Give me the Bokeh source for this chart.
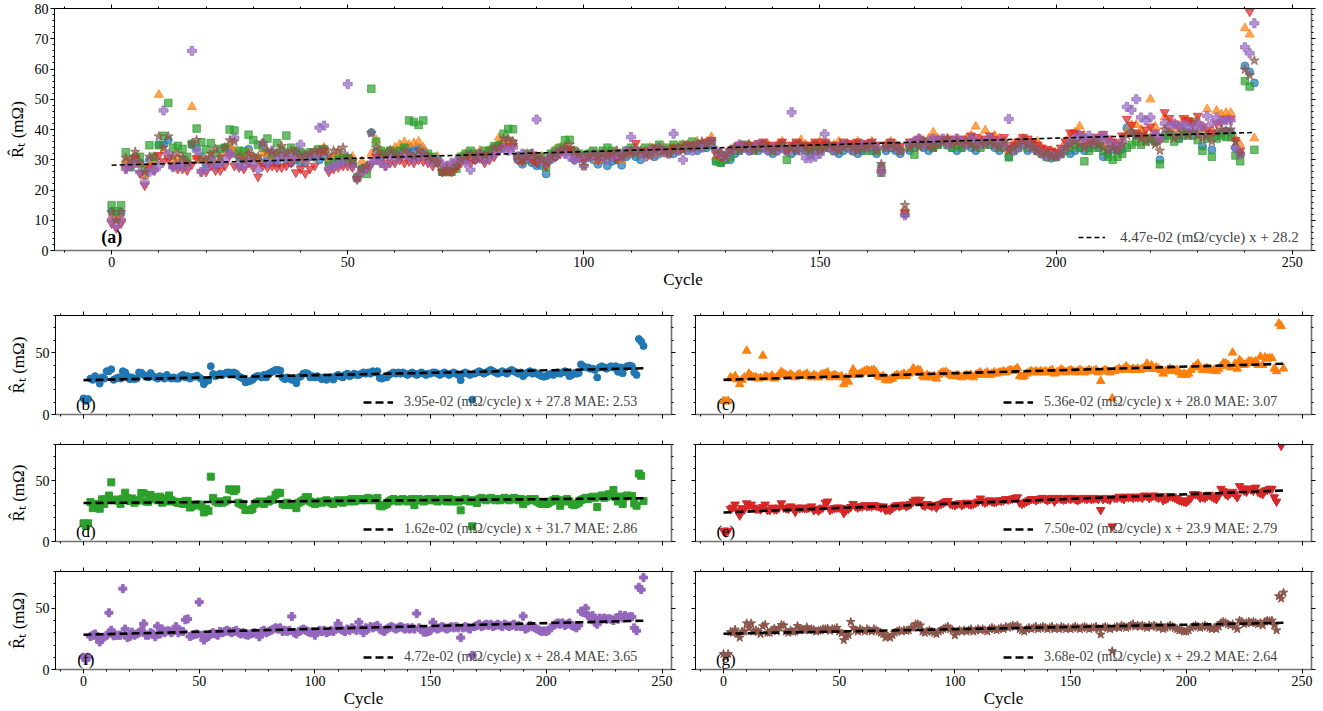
from bokeh.plotting import figure
from bokeh.layouts import column, row
from bokeh.models import (LinearAxis, SingleIntervalTicker, Range1d, Legend,
                          LegendItem, Label)
from bokeh.embed import file_html
from bokeh.resources import INLINE

cycles = list(range(243))

blue = [13, 11, 12.5, 29, 28, 31, 29, 25, 30, 29,
        35, 35, 36.5, 28, 29, 30, 29, 35, 34, 31,
        28.5, 30, 28.6, 29, 34, 33.7, 32, 31, 30, 33.5,
        31, 30, 29, 31, 30, 29, 32, 30, 29, 30,
        29, 29, 31, 32, 30, 31, 29, 30.5, 30.5, 31.5,
        30, 28.6, 24.5, 27, 27.5, 39, 32.7, 31, 32, 33,
        32, 33, 34, 34, 33, 34, 33, 31, 30, 29,
        26, 26.5, 27, 28, 30, 31, 31, 30, 32, 30,
        33, 34, 35, 36, 36, 35.5, 30, 28.5, 30, 29,
        28, 28.1, 25.3, 30, 31, 33, 33.5, 33, 30, 31,
        30, 31, 30, 28.5, 30, 28, 29.5, 30, 28.2, 31,
        32, 31, 30, 32, 33, 31, 32, 33, 32, 32,
        33, 34, 33, 34, 33, 35, 34, 35, 29.5, 29,
        30, 30, 32, 33, 34, 33, 34, 33, 34, 33,
        32, 33, 34, 33, 32, 33, 34, 33, 32, 33,
        33, 34, 34, 33, 32, 33, 34, 33, 32, 33,
        34, 33, 32, 27.7, 33, 34, 33, 32, 12, 33,
        34, 35, 34, 33, 34, 35, 36, 35, 34, 33,
        34, 35, 34, 33, 35, 36, 35, 34, 33, 34,
        31, 33, 34, 35, 33, 34, 33, 32, 31, 30.5,
        31, 32, 33, 32, 33, 34, 33, 34, 35, 34,
        31, 32, 33.5, 33, 33.5, 40.5, 39, 38, 38, 37,
        37, 36, 30, 38, 39, 38, 37, 38, 39, 38,
        39, 34.5, 38, 33.3, 38, 39, 39.5, 39, 34, 32,
        61, 59, 55.4]

orange = [11, 10.5, 11, 30, 29, 31, 28.3, 24.5, 28, 30,
          51.5, 33, 31, 30, 30, 29, 29.5, 47.5, 31, 30,
          30, 31.5, 29, 30, 32, 34.5, 33, 32, 31, 32.5,
          31, 30, 32, 32.5, 31, 32, 33, 31, 30, 32,
          31, 30, 32, 32.5, 33, 34, 30, 31, 32, 31,
          30, 31, 24.5, 29.5, 26.5, 32, 36.5, 33, 32, 33,
          34, 35, 35.8, 35, 35.5, 36, 34, 31, 30, 31,
          28, 27.5, 28.5, 29, 31, 32, 31, 32, 33, 31,
          33, 34, 37.3, 35, 36, 35.5, 31, 30, 32, 31,
          30, 31, 29, 32, 33.5, 34, 34.5, 33, 32, 31,
          31, 32, 31, 30, 31, 32, 31, 32, 30, 32,
          33, 34, 32, 33, 34, 32, 33, 34, 33, 34,
          34, 35, 34, 35, 36, 35, 36, 37.5, 31, 30.5,
          31, 33, 34, 35, 34, 35, 34, 35, 34, 35,
          34, 35, 36, 33, 34, 35, 36.5, 35, 34, 35,
          36, 35, 34, 35, 36, 35, 34, 35, 36, 35,
          35, 36, 34, 27, 35, 36, 35, 34, 13, 35,
          36, 37, 36, 37, 39, 37, 36, 37, 36, 37,
          36, 37, 38, 41, 37, 39.7, 37, 38, 37, 36,
          33, 35, 36, 37, 36, 35, 36, 34, 32, 33,
          32, 33, 36, 38, 39, 41, 38, 36, 37, 37.5,
          36, 35.5, 36, 35, 37, 39, 41.5, 41.5, 40, 38,
          50, 41, 37, 44, 42, 40, 41, 43, 43, 42,
          43, 40, 46.7, 40, 46.2, 45, 45.5, 45.5, 37, 35,
          73.5, 71.4, 37.1]

green = [15, 13, 15, 32.5, 27.5, 30.5, 31, 27, 34.8, 31,
         34.8, 37.9, 48.8, 34, 34.6, 33.6, 31, 35.2, 40.3, 35.8,
         33.4, 35.5, 32, 33.6, 34, 40, 39.7, 33, 32.8, 38.3,
         36.5, 35, 34, 37, 32, 35.5, 33, 38, 34, 33,
         32.5, 31.7, 32.5, 31, 33.5, 33.5, 28, 29, 30, 30.5,
         30.5, 29, 24, 27, 25.3, 53.5, 36, 33, 32, 33,
         32, 33, 34, 43, 42.5, 41.5, 43, 32, 31, 30,
         26, 25.9, 26, 27, 31, 32, 33, 32, 31, 33,
         33, 34.5, 34.5, 38.6, 40.2, 40.1, 31, 30, 32, 31,
         30, 31, 27.5, 32, 33, 34, 36.5, 36.6, 33, 32,
         31, 32, 33, 32, 33, 34, 33, 32, 31, 33,
         34, 33, 32, 34, 33, 34, 35, 33, 34, 35,
         34, 35, 34, 36, 35, 34, 35, 36, 29.5, 29,
         30, 31, 33, 34, 35, 34, 33, 34, 35, 34,
         33, 34, 35, 30, 34, 35, 34, 33, 34, 35,
         34, 35, 34, 33, 34, 35, 34, 33, 35, 34,
         33, 34, 33, 25.7, 34, 35, 34, 33, 12.5, 34,
         31.7, 35, 36, 35, 34, 35, 36, 35, 34, 35,
         34, 35, 36, 35, 34, 35, 36, 35, 34, 35,
         30.8, 33, 34, 35, 34, 35, 33, 32, 31, 32,
         31, 32, 33, 34, 35, 34, 29.5, 33, 34, 35,
         33, 31, 30, 31, 32, 34, 35, 36, 35, 36,
         37, 36, 28.5, 37, 38, 36, 37, 39, 38, 42.5,
         36.5, 33, 37, 31, 37, 38, 37.5, 37.5, 31.4, 29.5,
         56, 54.2, 33.3]

red = [9, 7.4, 9, 27, 28, 30.5, 25.5, 21.5, 27.5, 26.5,
       31.5, 29.5, 30.5, 28, 27, 27, 26.5, 28.5, 30.5, 26,
       26, 28, 26.5, 26.5, 28, 31.5, 28, 27.5, 27, 29,
       27.5, 24.4, 28, 27.5, 28, 27.5, 27.5, 28, 29, 25.8,
       27, 25.5, 27, 28, 32, 33, 26, 27, 27.5, 28,
       28, 27.5, 23.5, 26, 27, 28.5, 31, 29, 28, 29,
       29, 30, 29, 29.5, 29, 30, 29.5, 29, 28, 29,
       26, 26.5, 26, 27.5, 29, 30, 29, 30, 30.5, 29,
       30, 31, 33, 34.5, 34, 34.5, 30, 29.5, 31, 30,
       29, 30, 28, 30.5, 31, 32, 33, 33.5, 31, 30.5,
       30, 31, 31.5, 30, 31, 32, 31, 30.5, 31, 32,
       33, 35.5, 33, 32, 33, 34, 33, 32.5, 33, 34,
       33.5, 34, 35, 34.5, 35, 35.5, 36, 36.5, 32, 31,
       32, 33, 34, 35, 35, 34, 35, 35.5, 36, 35,
       34, 35, 36, 33, 35, 36, 35, 34.5, 35, 36,
       35, 36, 35, 34, 35, 36, 35.5, 35, 36, 35,
       35.5, 36, 35, 26, 35, 36, 35, 34.5, 12.5, 36,
       36, 37, 36, 35, 37, 36.5, 37, 36, 37, 36.5,
       37, 36, 38, 37.5, 36, 37, 38, 37, 36, 37.5,
       34, 35, 36, 37.5, 37, 36, 35, 34, 33.5, 33,
       32.5, 34, 36, 39, 39, 38.5, 36, 37, 36, 37.5,
       38.5, 37, 36, 35, 38, 43.5, 41.5, 39, 38, 40,
       41, 39, 36.5, 45.7, 43.8, 42, 41, 43.8, 43, 42,
       44.5, 41, 40, 39, 42, 42.5, 43.5, 43.5, 36.5, 33,
       85, 79, 86]

purple = [10, 8, 10, 27, 28, 29, 26, 22.5, 26, 26.5,
          28, 46.3, 32, 27.5, 28, 28, 28, 66, 33, 26,
          27, 30.5, 28, 29, 30, 32, 37.3, 28, 28, 30,
          29, 26.7, 35.3, 29, 33, 30, 31.5, 31.5, 30, 31.5,
          35, 30, 31.5, 31, 40.6, 41.3, 27, 28, 28.5, 29,
          55, 28, 24, 26, 27, 29, 30, 29, 28, 31,
          30, 31, 32, 31, 30, 31, 32, 30, 29, 30,
          28.5, 28, 29, 29.5, 30, 29, 26.7, 31, 32, 30,
          31, 32, 33, 34, 33, 34, 31, 32, 31, 32,
          43.3, 30, 29, 31, 32, 33, 32, 31, 30, 31,
          28, 31, 32, 31, 32, 30, 31, 32, 31, 33,
          37.5, 33, 32, 31, 33, 32, 34, 33, 32, 38.6,
          33, 30, 34, 33, 35, 34, 35, 36, 33, 32,
          31, 33, 34, 35, 34, 33, 34, 35, 34, 33,
          34, 33, 34, 33, 45.7, 34, 33, 30.5, 30.5, 31,
          32, 38.5, 34, 33, 34, 35, 34, 33, 34, 35,
          34, 35, 34, 26, 34, 35, 34, 33, 11.6, 35,
          36, 37, 35, 36, 37, 36, 37, 35, 36, 37,
          36, 35, 37, 36, 35, 36, 37, 35, 36, 35,
          43.5, 33, 34, 36, 35, 34, 33, 32, 31, 31.5,
          31, 32, 34, 36, 37, 38, 37, 38, 36, 37,
          38, 36, 35, 34, 36, 47.5, 46.5, 50, 44, 43,
          44, 38.5, 37, 42, 41, 42, 41, 41.5, 41, 40,
          42, 41, 44.5, 42, 44, 42.5, 43, 43, 34, 31.7,
          67.2, 65.2, 75.1]

brown = [12.7, 10, 12.7, 30.6, 30, 32.6, 29, 26, 31, 31,
         37.7, 34, 37.7, 31, 32, 30.8, 29, 35.3, 36.5, 30,
         30, 32, 33.5, 31, 34, 36.4, 36, 31, 30, 32,
         30.8, 31, 35.5, 33, 32.5, 32, 34.5, 32, 33, 32.5,
         31, 31.6, 32, 33, 33, 33.5, 31.5, 33, 33, 34,
         31, 29.5, 24, 27, 28, 38.8, 34, 32, 31, 33,
         32, 31, 33, 32, 31, 33, 32, 31, 30, 29,
         26, 27, 26, 28, 30, 31, 32, 31, 32, 31.5,
         32, 34, 34, 37, 37, 36, 31, 30, 31, 32,
         31, 30, 29, 31, 32, 33, 34, 35, 33, 32,
         27.9, 31, 32, 31, 32, 31, 32, 33, 31, 32,
         33, 32, 33, 32, 31, 33, 34, 33, 32, 33,
         34, 33, 35, 34, 35, 36, 35, 36, 33, 32,
         31, 33, 34, 33, 34, 35, 33, 34, 35, 34,
         33, 34, 35, 33, 34, 33, 35, 34, 33, 34,
         33, 34, 35, 34, 33, 34, 35, 34, 33, 34,
         34, 35, 33, 28.6, 34, 35, 34, 33, 15, 34,
         35, 34, 36, 35, 34, 35, 36, 37, 35, 36,
         35, 36, 35, 34, 36, 35, 36, 35, 34, 36,
         33, 34, 35, 36, 35, 34, 33, 32, 32, 31,
         31, 32, 34, 35, 36, 35, 34, 35, 36, 35,
         34, 33, 34, 33, 35, 38, 39, 38, 37, 36,
         37, 35, 33, 40, 39, 37, 38, 39, 38, 39,
         38, 37, 38, 36, 39, 40, 39.5, 40, 36, 32,
         59.8, 57.9, 62.8]

series = [blue, orange, green, red, purple, brown]
colors = ["#1f77b4", "#ff7f0e", "#2ca02c", "#d62728", "#9467bd", "#8c564b"]
markers = ["circle", "triangle", "square", "inverted_triangle", "plus", "star"]
panel_tags = ["(b)", "(c)", "(d)", "(e)", "(f)", "(g)"]

all_slope, all_intercept = 0.0447, 28.2
slopes = [0.0395, 0.0536, 0.0162, 0.0750, 0.0472, 0.0368]
intercepts = [27.8, 28.0, 31.7, 23.9, 28.4, 29.2]
maes = [2.53, 3.07, 2.86, 2.79, 3.65, 2.64]

x_ticks_interval = 50
top_y_interval = 10
sub_y_interval = 50

SERIF = "Liberation Serif"
YLABEL = "R\u0302\u209c (m\u03a9)"

top_sizes = {"circle": 8, "triangle": 9, "square": 7.5, "inverted_triangle": 9,
             "plus": 9, "star": 10}
sub_sizes = {"circle": 7, "triangle": 8.5, "square": 7, "inverted_triangle": 8.5,
             "plus": 8, "star": 9}


def make_axis(interval, nminor, show_labels):
    ax = LinearAxis(ticker=SingleIntervalTicker(interval=interval, num_minor_ticks=nminor))
    ax.major_tick_out = 4
    ax.major_tick_in = 0
    ax.minor_tick_out = 2
    ax.minor_tick_in = 0
    ax.major_label_text_font = SERIF
    ax.major_tick_line_color = "black"
    ax.minor_tick_line_color = "black"
    ax.axis_label_text_font = SERIF
    ax.axis_label_text_font_style = "normal"
    ax.axis_label_text_color = "black"
    if show_labels:
        ax.major_label_text_color = "black"
        ax.major_label_text_font_size = "14px"
        ax.major_label_standoff = 2
    else:
        ax.major_label_text_color = None
        ax.major_label_text_font_size = "1px"
        ax.major_label_standoff = 0
    return ax


def base_fig(fw, fh, bl, br, bt, bb, y_interval, y_minor, xlabels, ylabels, xtitle, ytitle):
    p = figure(frame_width=fw, frame_height=fh,
               min_border_left=bl, min_border_right=br,
               min_border_top=bt, min_border_bottom=bb,
               x_range=Range1d(-12.1, 254.1), y_range=Range1d(0, 80),
               x_axis_type=None, y_axis_type=None,
               output_backend="svg", toolbar_location=None)
    p.outline_line_color = None
    p.background_fill_color = "white"
    p.border_fill_color = "white"

    bx = make_axis(x_ticks_interval, 5, xlabels)
    bx.axis_line_color = "#707070"
    bx.axis_line_width = 1.6
    if xtitle:
        bx.axis_label = "Cycle"
        bx.axis_label_text_font_size = "17px"
        bx.axis_label_standoff = 0
    p.add_layout(bx, "below")

    tx = make_axis(x_ticks_interval, 5, False)
    tx.axis_line_color = "black"
    tx.axis_line_width = 1
    p.add_layout(tx, "above")

    ly = make_axis(y_interval, y_minor, ylabels)
    ly.axis_line_color = "black"
    ly.axis_line_width = 1
    if ytitle:
        ly.axis_label = YLABEL
        ly.axis_label_text_font_size = "17px"
        ly.axis_label_standoff = 5
    p.add_layout(ly, "left")

    ry = make_axis(y_interval, y_minor, False)
    ry.axis_line_color = "#707070"
    ry.axis_line_width = 1.6
    p.add_layout(ry, "right")
    return p


# ---------------- top panel (a) ----------------
top = base_fig(1257, 242, 54, 12, 8, 45, top_y_interval, 5, True, True, True, True)
for ys, c, m in zip(series, colors, markers):
    top.scatter(cycles, ys, marker=m, size=top_sizes[m], fill_color=c, line_color=c,
                fill_alpha=0.7, line_alpha=0.7)
x_end = [cycles[0], cycles[-1]]
reg = top.line(x_end, [all_slope * x + all_intercept for x in x_end],
               line_color="black", line_width=1.6, line_dash="5 3")
leg = Legend(items=[LegendItem(label=f"{all_slope:.2e} (m\u03a9/cycle) x + {all_intercept:.1f}",
                               renderers=[reg])],
             location=(1024, 4), border_line_color=None, background_fill_alpha=0,
             label_text_font=SERIF, label_text_font_size="15px",
             glyph_width=27, glyph_height=18, label_standoff=15, padding=5, margin=0,
             label_height=18)
top.add_layout(leg)
top.add_layout(Label(x=0, y=1.0, text="(a)", text_align="center", text_baseline="bottom",
                     text_font=SERIF, text_font_style="bold", text_font_size="18px",
                     text_color="black"))

# ---------------- sub panels ----------------
row_specs = [(99, 20, 15, False), (97, 15, 15, False), (98, 15, 42, True)]
rows = []
for r, (fh, bt, bb, bottom_row) in enumerate(row_specs):
    figs = []
    for ccol in range(2):
        i = r * 2 + ccol
        left = ccol == 0
        p = base_fig(616, fh, 55 if left else 15, 9 if left else 12, bt, bb,
                     sub_y_interval, 5, bottom_row, left, bottom_row, left)
        ys = series[i]
        m = markers[i]
        p.scatter(cycles, ys, marker=m, size=sub_sizes[m], fill_color=colors[i],
                  line_color=colors[i])
        rl = p.line(x_end, [slopes[i] * x + intercepts[i] for x in x_end],
                    line_color="black", line_width=2.6, line_dash="8 4")
        lg = Legend(items=[LegendItem(
            label=f"{slopes[i]:.2e} (m\u03a9/cycle) x + {intercepts[i]:.1f} MAE: {maes[i]:.2f}",
            renderers=[rl])],
            location=(308, 3), border_line_color=None, background_fill_alpha=0,
            label_text_font=SERIF, label_text_font_size="14px",
            glyph_width=30, glyph_height=18, label_standoff=11, padding=5, margin=0,
            label_height=18)
        p.add_layout(lg)
        p.add_layout(Label(x=1, y=0.8, text=panel_tags[i], text_align="center",
                           text_baseline="bottom", text_font=SERIF,
                           text_font_size="17px", text_color="black"))
        figs.append(p)
    rows.append(row(*figs, spacing=0))

layout = column(top, *rows, spacing=0)

open("out.html", "w").write(file_html(layout, INLINE))
